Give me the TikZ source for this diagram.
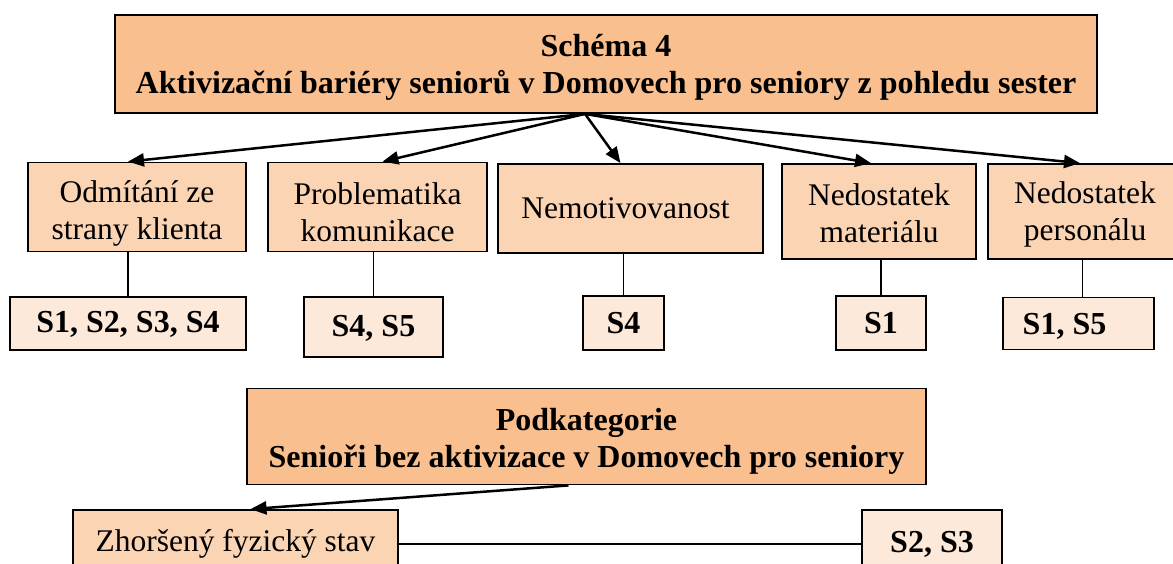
\documentclass[tikz,border=0pt]{standalone}
\usepackage{fontspec}
\setmainfont{Liberation Serif}
\usetikzlibrary{arrows.meta,calc}
\definecolor{hdrfill}{HTML}{FABF8F}
\definecolor{midfill}{HTML}{FBD4B4}
\definecolor{litefill}{HTML}{FDE9D9}
\begin{document}
\begin{tikzpicture}[x=1pt,y=-1pt,
  box/.style={draw=black, line width=1.8pt, inner sep=0pt},
  headbox/.style={box, fill=hdrfill},
  catbox/.style={box, fill=midfill},
  refbox/.style={box, fill=litefill},
  plain/.style={align=center, inner sep=0pt, font=\fontsize{31.5}{37}\selectfont},
  strong/.style={align=center, inner sep=0pt, font=\fontsize{32}{37}\selectfont\bfseries},
  arr/.style={line width=2.5pt, -{Triangle[length=16pt,width=13pt]}},
  link/.style={line width=1.8pt}]
\clip (0,0) rectangle (1173,563);
\fill[white] (0,0) rectangle (1173,563);

% main heading
\node[headbox, minimum width=982, minimum height=98,
  label={[strong, yshift=-3pt]center:{Schéma 4\\Aktivizační bariéry seniorů v Domovech pro seniory z pohledu sester}}]
  (top) at (606,64) {};

% barrier categories
\node[catbox, minimum width=218, minimum height=89,
  label={[plain, yshift=-6pt]center:{Odmítání ze\\strany klienta}}] (odm) at (137,207) {};
\node[catbox, minimum width=219, minimum height=89,
  label={[plain, yshift=-5pt]center:{Problematika\\komunikace}}] (prob) at (377.5,207) {};
\node[catbox, minimum width=265, minimum height=89,
  label={[plain, xshift=-5pt]center:{Nemotivovanost}}] (nemo) at (630.5,208.5) {};
\node[catbox, minimum width=194, minimum height=95,
  label={[plain, yshift=-2pt]center:{Nedostatek\\materiálu}}] (mat) at (879,211.5) {};
\node[catbox, minimum width=194, minimum height=95,
  label={[plain, yshift=-3pt]center:{Nedostatek\\personálu}}] (pers) at (1085,211.5) {};

% respondents
\node[refbox, minimum width=236, minimum height=53,
  label={[strong, yshift=-1pt]center:{S1, S2, S3, S4}}] (r1) at (128,323.5) {};
\node[refbox, minimum width=139, minimum height=60,
  label={[strong, yshift=-1pt]center:{S4, S5}}] (r2) at (373.5,327) {};
\node[refbox, minimum width=81, minimum height=54,
  label={[strong]center:{S4}}] (r3) at (623.5,323) {};
\node[refbox, minimum width=90, minimum height=54,
  label={[strong]center:{S1}}] (r4) at (881,323) {};
\node[refbox, minimum width=151, minimum height=52,
  label={[strong, xshift=-14pt, yshift=-3pt]center:{S1, S5}}] (r5) at (1078.5,323.5) {};

% subcategory
\node[headbox, minimum width=679, minimum height=96,
  label={[strong, yshift=-5pt]center:{Podkategorie\\Senioři bez aktivizace v Domovech pro seniory}}]
  (pod) at (586.5,436.5) {};
\node[catbox, minimum width=325, minimum height=62,
  label={[plain, yshift=-3pt]center:{Zhoršený fyzický stav}}] (zh) at (235.5,541) {};
\node[refbox, minimum width=140, minimum height=62,
  label={[strong, yshift=-3pt]center:{S2, S3}}] (r6) at (932,541) {};

% arrows from the heading
\coordinate (hub) at ([xshift=-21pt]top.south);
\draw[arr] (hub) -- ([xshift=-9pt]odm.north);
\draw[arr] (hub) -- ([xshift=5pt]prob.north);
\draw[arr] (hub) -- ([xshift=-10pt]nemo.north);
\draw[arr] (hub) -- ([xshift=-8pt]mat.north);
\draw[arr] (hub) -- ([xshift=-5pt]pers.north);

% category to respondents
\draw[link] (r1.north) -- (r1.north |- odm.south);
\draw[link] (r2.north) -- (r2.north |- prob.south);
\draw[link] (r3.north) -- (r3.north |- nemo.south);
\draw[link] (r4.north) -- (r4.north |- mat.south);
\draw[link] ([xshift=4pt]r5.north) -- ([xshift=4pt]r5.north |- pers.south);

% subcategory links
\draw[arr] ([xshift=-18pt]pod.south) -- ([xshift=15pt]zh.north);
\draw[link] ([yshift=-3pt]zh.east) -- ([yshift=-3pt]r6.west);
\end{tikzpicture}
\end{document}
